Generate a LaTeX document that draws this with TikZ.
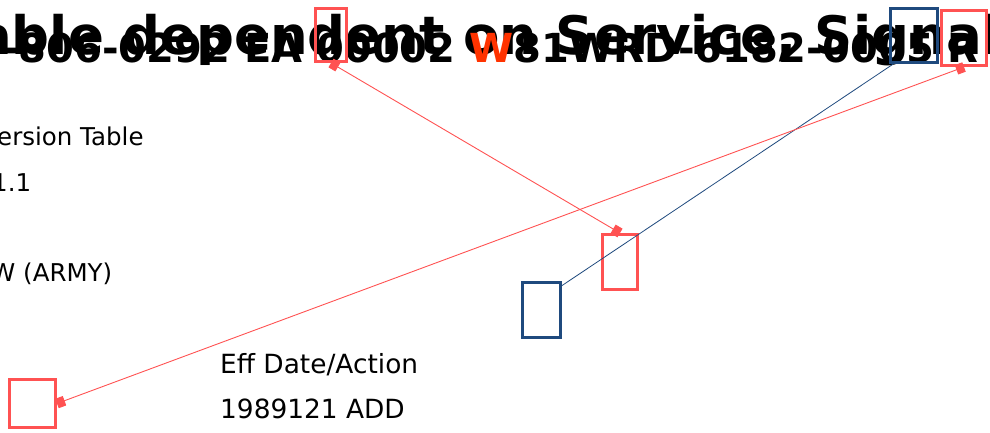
\documentclass[tikz,border=0pt]{standalone}
\usepackage{fontspec}
\setmainfont{DejaVu Sans}
\usetikzlibrary{arrows.meta}
\definecolor{markred}{RGB}{255,82,82}
\definecolor{markblue}{RGB}{31,74,126}
\definecolor{hotorange}{RGB}{255,51,0}
\begin{document}
\begin{tikzpicture}[x=1pt,y=-1pt,
  redbox/.style={draw=markred,line width=3pt,inner sep=0pt},
  bluebox/.style={draw=markblue,line width=3pt,inner sep=0pt},
  redlink/.style={draw=markred,line width=0.9pt,{Square[length=8pt,width=10pt]}-{Square[length=8pt,width=10pt]}},
  bluelink/.style={draw=markblue,line width=0.8pt},
  bigline/.style={font=\bfseries\fontsize{53}{60}\selectfont,inner sep=0pt,anchor=base west},
  codeline/.style={font=\bfseries\fontsize{40}{48}\selectfont,inner sep=0pt,anchor=base west},
  plain/.style={font=\fontsize{24.5}{28}\selectfont,inner sep=0pt,anchor=base west},
  plainbig/.style={font=\fontsize{26.4}{30}\selectfont,inner sep=0pt,anchor=base west}]
\useasboundingbox (0,0) rectangle (990,433);
\clip (0,0) rectangle (990,433);
% header lines, drawn over one another
\node[bigline] (title) at (-24,55) {able dependent on Service, Signal};
\node[codeline] (code) at (2,63) {-806-0292 EA 00002 \textcolor{hotorange}{W}81WRD-6182-0005 R};
% left column
\node[plain] (version) at (-3,146) {ersion Table};
\node[plain] (release) at (-8,191) {1.1};
\node[plain] (army) at (-9,281) {W (ARMY)};
\node[plainbig] (effdate) at (220,373) {Eff Date/Action};
\node[plainbig] (action) at (220,418) {1989121 ADD};
% marker boxes
\node[redbox,minimum width=31pt,minimum height=53pt] (r1) at (331,35) {};
\node[bluebox,minimum width=47pt,minimum height=54pt] (b1) at (914,35.5) {};
\node[redbox,minimum width=45pt,minimum height=55pt] (r2) at (964,38) {};
\node[redbox,minimum width=35pt,minimum height=55pt] (r3) at (620,262) {};
\node[bluebox,minimum width=38pt,minimum height=55pt] (b2) at (541.5,310) {};
\node[redbox,minimum width=46pt,minimum height=48pt] (r4) at (32.5,403.5) {};
% links
\draw[redlink] (r1.south) -- (r3.north);
\draw[bluelink] (b1.234) -- (b2.50);
\draw[redlink] (r2.south) -- (r4.east);
\end{tikzpicture}
\end{document}
